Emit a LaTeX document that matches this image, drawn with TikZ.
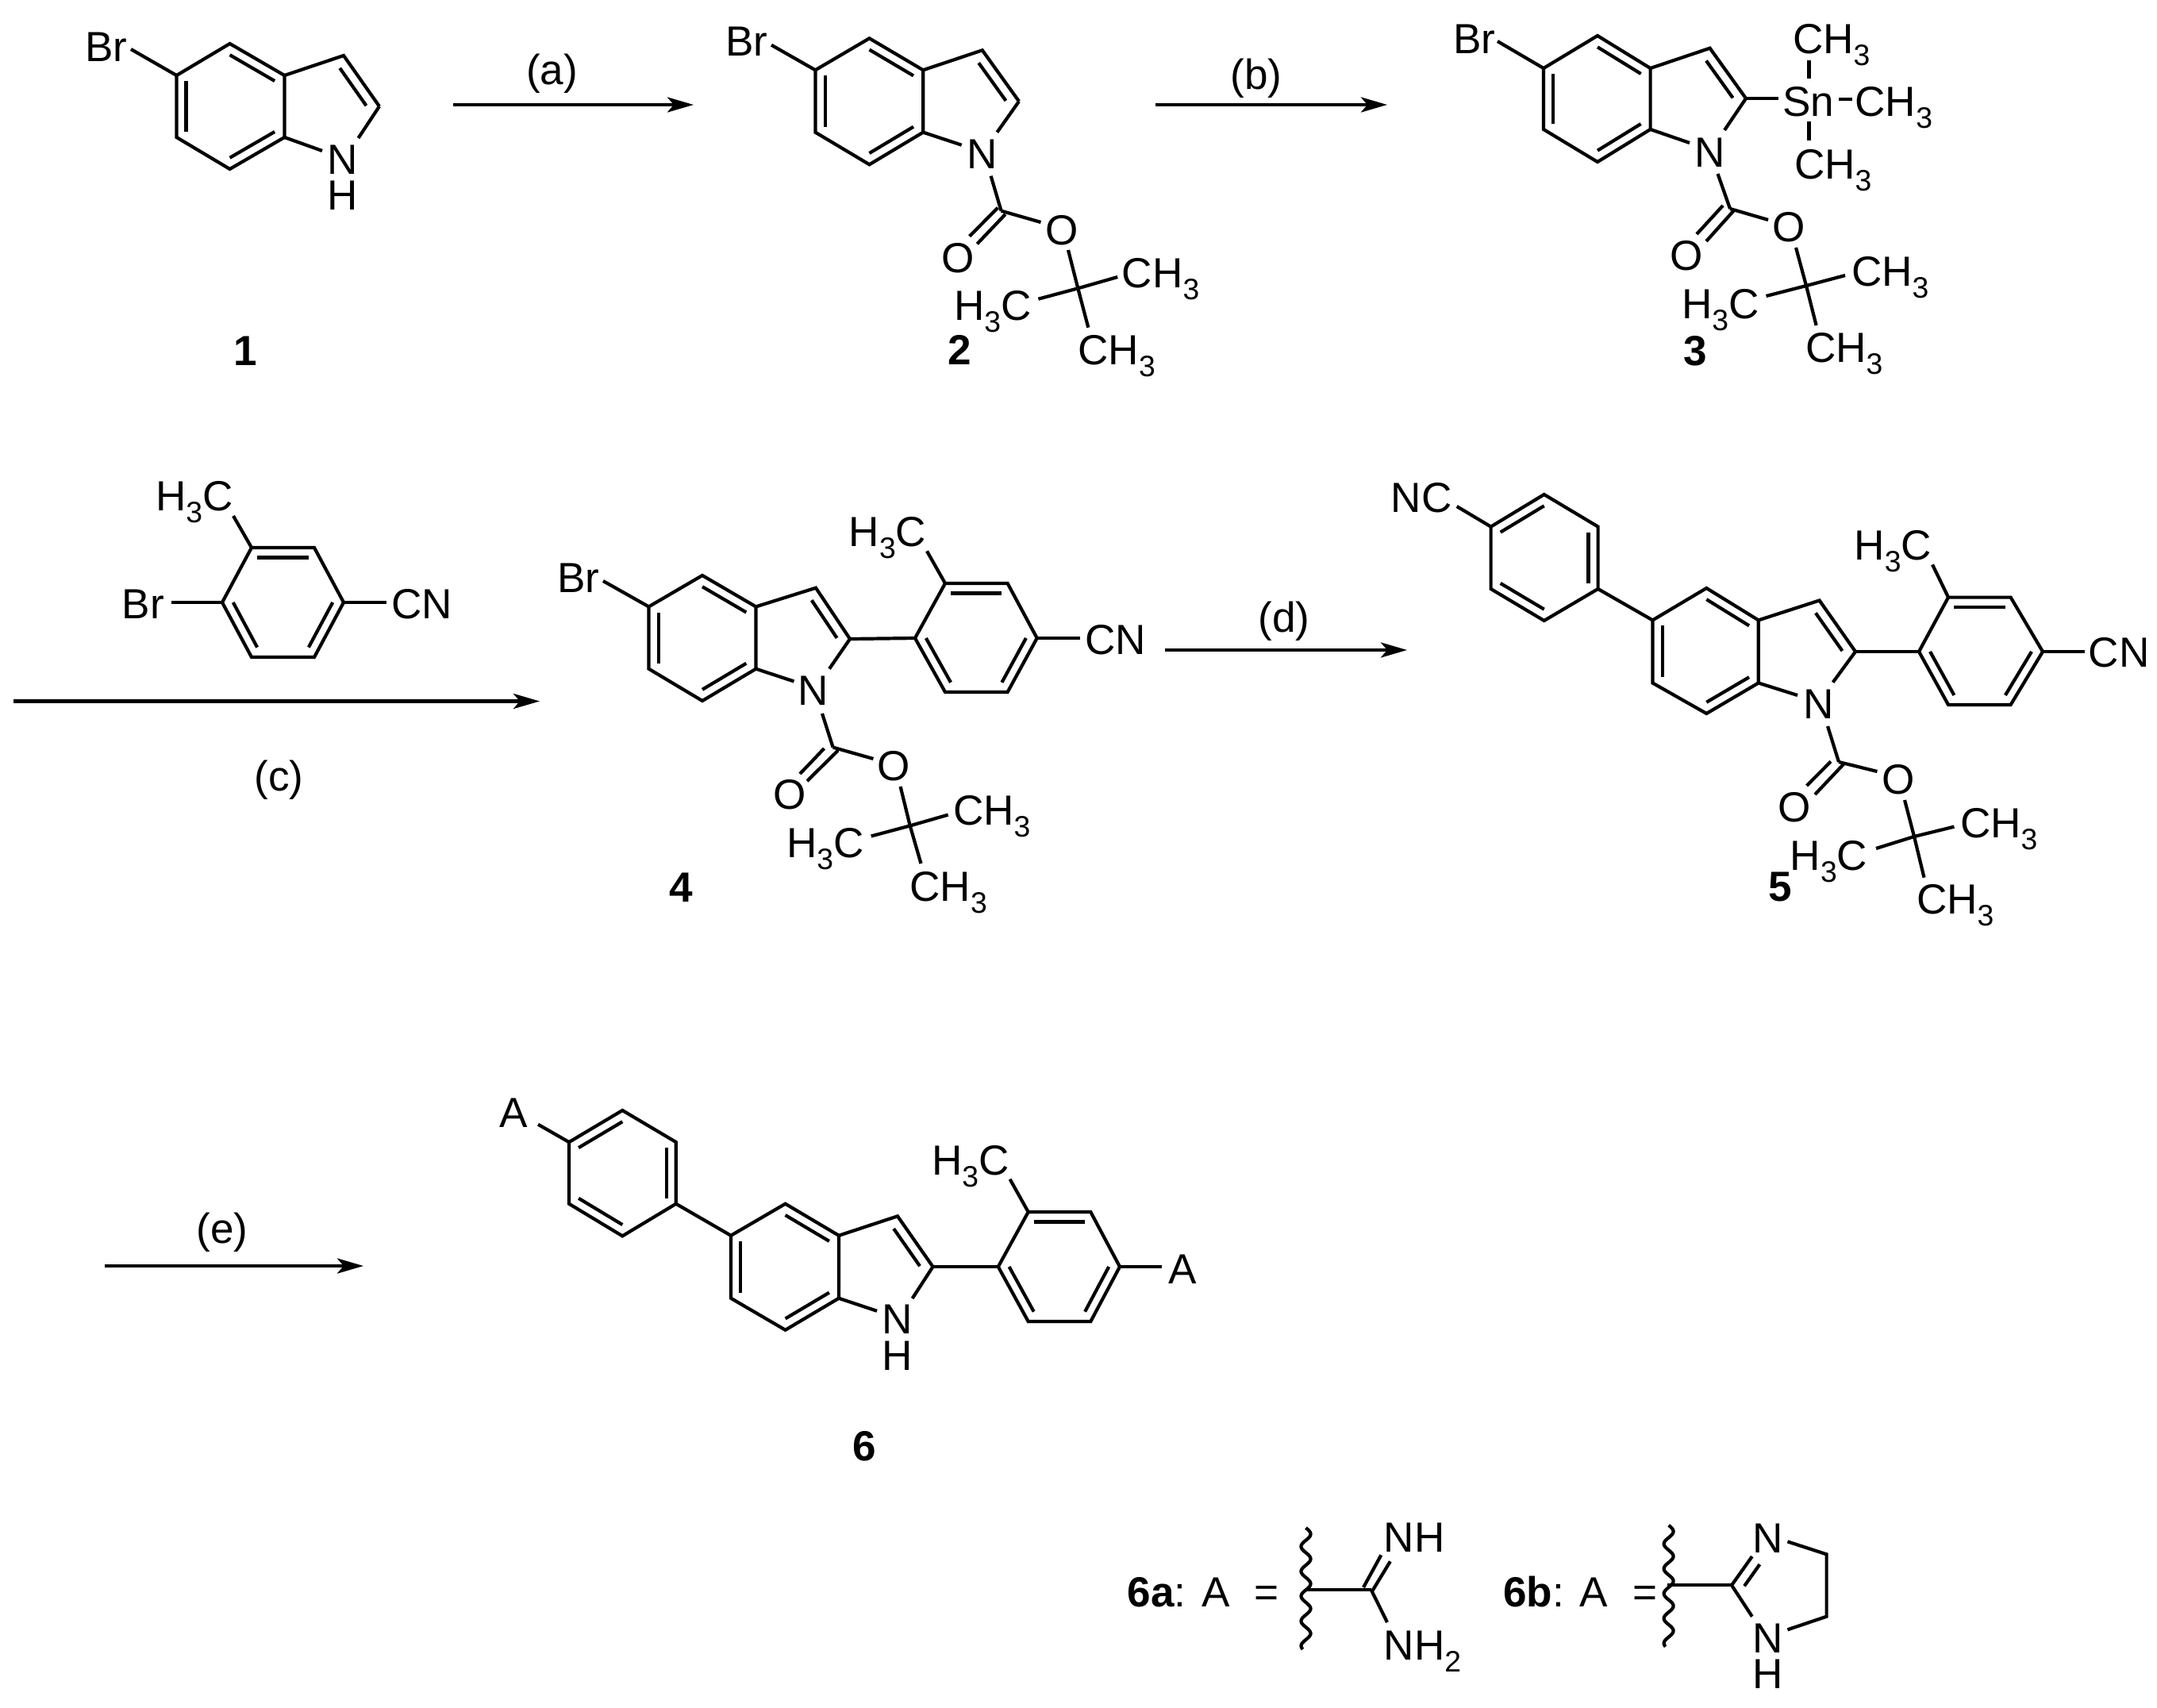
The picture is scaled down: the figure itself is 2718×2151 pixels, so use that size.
\documentclass[tikz,border=0pt]{standalone}
\usepackage{fontspec}
\setmainfont{Liberation Sans}
\usetikzlibrary{arrows.meta,calc}
\newcommand\sbs[1]{\raisebox{-0.15cm}{\fontsize{10.6}{12}\selectfont #1}}
\tikzset{
  bond/.style={line width=0.042cm,line join=miter,line cap=butt},
  rxn/.style={line width=0.042cm,-{Stealth[length=0.33cm,width=0.19cm,inset=0.08cm]}},
  lbl/.style={inner sep=0pt,outer sep=0pt,anchor=base west,xshift=-0.03cm,font=\fontsize{15.1}{18}\selectfont},
  atm/.style={inner sep=0pt,outer sep=0pt,anchor=base,font=\fontsize{15.1}{18}\selectfont},
  num/.style={atm,font=\fontsize{15.1}{18}\selectfont\bfseries}
}
% pointy-top hexagon: name, xl, xm, xr, ytop, yup, ylo, ybot
\newcommand\hexp[8]{%
  \coordinate (#1a) at (#3,#5); \coordinate (#1b) at (#4,#6); \coordinate (#1c) at (#4,#7);
  \coordinate (#1d) at (#3,#8); \coordinate (#1e) at (#2,#7); \coordinate (#1f) at (#2,#6);
  \coordinate (#1g) at ($(#1a)!.5!(#1d)$);
  \draw[bond] (#1a)--(#1b)--(#1c)--(#1d)--(#1e)--(#1f)--cycle;}
% flat-top hexagon: name, xl, xtl, xtr, xr, yt, ym, yb
\newcommand\hexf[8]{%
  \coordinate (#1a) at (#3,#6); \coordinate (#1b) at (#4,#6); \coordinate (#1c) at (#5,#7);
  \coordinate (#1d) at (#4,#8); \coordinate (#1e) at (#3,#8); \coordinate (#1f) at (#2,#7);
  \coordinate (#1g) at ($(#1c)!.5!(#1f)$);
  \draw[bond] (#1a)--(#1b)--(#1c)--(#1d)--(#1e)--(#1f)--cycle;}
\newcommand\inr[3]{\draw[bond] ($(#1#2)!.18!(#1g)$)--($(#1#3)!.18!(#1g)$);}
% double bond of five ring: inner line on the right of a->b
\newcommand\dbl[2]{\draw[bond] ($(#1)!.13!(#2)!0.13cm!-90:(#2)$)--($(#2)!.13!(#1)!0.13cm!90:(#1)$);}
\newcommand\indl[1]{\inr{#1}{f}{e}\inr{#1}{a}{b}\inr{#1}{d}{c}
  \draw[bond] (#1b)--(#1t)--(#1u); \dbl{#1t}{#1u}}
\newcommand\seg[2]{\draw[bond] (#1)--(#2);}
\begin{document}
\begin{tikzpicture}[x=0.01cm,y=-0.01cm]
\path[fill=white,use as bounding box] (0,0) rectangle (2718,2151);

%% ---------- compound 1
\hexp{A}{222.5}{289.6}{358.5}{55}{95}{173}{213}
\coordinate (At) at (433,70); \coordinate (Au) at (478,134);
\indl{A}
\node[lbl] (Abr) at (110.5,77) {Br};
\node[atm] (An) at (432,219) {N};
\node[atm] (Ah) at (432,264) {H};
\coordinate (Ae1) at (165,62); \coordinate (Ae2) at (451.5,174); \coordinate (Ae3) at (406,190);
\seg{Ae1}{Af}\seg{Au}{Ae2}\seg{Ac}{Ae3}
\node[num] (n1) at (309,460) {1};

%% arrow a
\coordinate (ra1) at (571,132); \coordinate (ra2) at (874,132);
\draw[rxn] (ra1)--(ra2);
\node[atm] (la) at (695.5,106) {(a)};

%% ---------- compound 2
\hexp{B}{1027.4}{1095.5}{1163.2}{48.3}{88.3}{166.7}{207.3}
\coordinate (Bt) at (1237.8,63.3); \coordinate (Bu) at (1284,127.7);
\indl{B}
\node[lbl] (Bbr) at (917,70) {Br};
\node[atm] (Bn) at (1238,212.3) {N};
\coordinate (Be1) at (972,56.7); \coordinate (Be2) at (1256.4,166.7); \coordinate (Be3) at (1211.7,182.7);
\seg{Be1}{Bf}\seg{Bu}{Be2}\seg{Bc}{Be3}
\coordinate (Bn1) at (1248.6,221.7); \coordinate (Bc1) at (1261.6,265.7); \seg{Bn1}{Bc1}
\coordinate (Bd1) at (1257.3,261.7); \coordinate (Bd2) at (1221.7,297.7); \seg{Bd1}{Bd2}
\coordinate (Bd3) at (1266.8,270); \coordinate (Bd4) at (1231.3,307.3); \seg{Bd3}{Bd4}
\coordinate (Bo1) at (1311.5,280); \seg{Bc1}{Bo1}
\node[atm] (BoA) at (1207,343) {O};
\node[atm] (BoB) at (1338,308) {O};
\coordinate (Bq0) at (1346,315); \coordinate (Bq) at (1358.3,363.3); \coordinate (Bq1) at (1371.3,412.7);
\coordinate (Bq2) at (1308.4,376.7); \coordinate (Bq3) at (1408.2,349);
\seg{Bq0}{Bq}\seg{Bq}{Bq1}\seg{Bq}{Bq2}\seg{Bq}{Bq3}
\node[lbl] (Bm1) at (1416.9,362.7) {CH\sbs{3}};
\node[lbl] (Bm2) at (1205,403.3) {H\sbs{3}C};
\node[lbl] (Bm3) at (1361.3,459.3) {CH\sbs{3}};
\node[num] (n2) at (1209.6,459.3) {2};

%% arrow b
\coordinate (rb1) at (1456,132); \coordinate (rb2) at (1748,132);
\draw[rxn] (rb1)--(rb2);
\node[atm] (lb) at (1583,112) {(b)};

%% ---------- compound 3
\hexp{C}{1945}{2013}{2079.6}{45}{86}{163}{204}
\coordinate (Ct) at (2154.6,60.7); \coordinate (Cu) at (2200,124);
\indl{C}
\node[lbl] (Cbr) at (1834,67) {Br};
\node[atm] (Cn) at (2155,210) {N};
\coordinate (Ce1) at (1887,52); \coordinate (Ce2) at (2173,164); \coordinate (Ce3) at (2129,180);
\seg{Ce1}{Cf}\seg{Cu}{Ce2}\seg{Cc}{Ce3}
\coordinate (Cn1) at (2164.5,219); \coordinate (Cc1) at (2180,263); \seg{Cn1}{Cc1}
\coordinate (Cd1) at (2171,259); \coordinate (Cd2) at (2138,295); \seg{Cd1}{Cd2}
\coordinate (Cd3) at (2185,265); \coordinate (Cd4) at (2150,304); \seg{Cd3}{Cd4}
\coordinate (Co1) at (2228,277); \seg{Cc1}{Co1}
\node[atm] (CoA) at (2125,340) {O};
\node[atm] (CoB) at (2254,304) {O};
\coordinate (Cq0) at (2263,312); \coordinate (Cq) at (2276,360); \coordinate (Cq1) at (2288.6,410);
\coordinate (Cq2) at (2225.5,373); \coordinate (Cq3) at (2325,347);
\seg{Cq0}{Cq}\seg{Cq}{Cq1}\seg{Cq}{Cq2}\seg{Cq}{Cq3}
\node[lbl] (Cm1) at (2336,360) {CH\sbs{3}};
\node[lbl] (Cm2) at (2122,401) {H\sbs{3}C};
\node[lbl] (Cm3) at (2278,456) {CH\sbs{3}};
\node[num] (n3) at (2136,460) {3};
\node[lbl] (Csn) at (2249,146) {Sn};
\node[lbl] (Cs1) at (2262,67) {CH\sbs{3}};
\node[lbl] (Cs2) at (2264,225) {CH\sbs{3}};
\node[lbl] (Cs3) at (2340.6,146) {CH\sbs{3}};
\coordinate (Cx1) at (2241,124); \seg{Cu}{Cx1}
\coordinate (Cx2) at (2279.5,76); \coordinate (Cx3) at (2279.5,99); \seg{Cx2}{Cx3}
\coordinate (Cx4) at (2279.5,153); \coordinate (Cx5) at (2279.5,177); \seg{Cx4}{Cx5}
\coordinate (Cx6) at (2317,125); \coordinate (Cx7) at (2333.5,125); \seg{Cx6}{Cx7}

%% ---------- reagent and arrow c
\hexf{R}{280}{317}{396}{433}{690}{759}{828}
\inr{R}{a}{b}\inr{R}{f}{e}\inr{R}{c}{d}
\node[lbl] (Rm) at (199,643.8) {H\sbs{3}C};
\node[lbl] (Rbr) at (157,779.5) {Br};
\node[lbl] (Rcn) at (496.6,779.5) {CN};
\coordinate (Re1) at (294,650); \coordinate (Re2) at (215.5,759); \coordinate (Re3) at (487,759);
\seg{Re1}{Ra}\seg{Re2}{Rf}\seg{Rc}{Re3}
\coordinate (rc1) at (17,883.5); \coordinate (rc2) at (680,883.5);
\draw[rxn] (rc1)--(rc2);
\node[atm] (lc) at (351.4,996) {(c)};

%% ---------- compound 4
\hexp{D}{817.5}{885}{952.5}{725}{764.4}{842.7}{883}
\coordinate (Dt) at (1028,740.7); \coordinate (Du) at (1071,805);
\indl{D}
\node[lbl] (Dbr) at (705,746) {Br};
\node[atm] (Dn) at (1025,888) {N};
\coordinate (De1) at (760,732); \coordinate (De2) at (1045,842.7); \coordinate (De3) at (1000.5,858.5);
\seg{De1}{Df}\seg{Du}{De2}\seg{Dc}{De3}
\coordinate (Dn1) at (1036,899); \coordinate (Dc1) at (1049.6,941.6); \seg{Dn1}{Dc1}
\coordinate (Dd1) at (1038.5,943); \coordinate (Dd2) at (1008,975); \seg{Dd1}{Dd2}
\coordinate (Dd3) at (1056,945.5); \coordinate (Dd4) at (1017,984); \seg{Dd3}{Dd4}
\coordinate (Do1) at (1100.4,956); \seg{Dc1}{Do1}
\node[atm] (DoA) at (995,1019) {O};
\node[atm] (DoB) at (1126,983) {O};
\coordinate (Dq0) at (1134.6,991); \coordinate (Dq) at (1146.7,1040.4); \coordinate (Dq1) at (1160.5,1088);
\coordinate (Dq2) at (1097.7,1053.5); \coordinate (Dq3) at (1194.7,1026.6);
\seg{Dq0}{Dq}\seg{Dq}{Dq1}\seg{Dq}{Dq2}\seg{Dq}{Dq3}
\node[lbl] (Dm1) at (1204,1039) {CH\sbs{3}};
\node[lbl] (Dm2) at (994,1080) {H\sbs{3}C};
\node[lbl] (Dm3) at (1149.5,1135) {CH\sbs{3}};
\node[num] (n4) at (858,1136.5) {4};
\hexf{E}{1153}{1191}{1269.6}{1306.7}{735}{804}{872}
\inr{E}{a}{b}\inr{E}{f}{e}\inr{E}{c}{d}
\seg{Du}{Ef}
\node[lbl] (Em) at (1072.7,688.5) {H\sbs{3}C};
\node[lbl] (Ecn) at (1370.4,824) {CN};
\coordinate (Ee1) at (1168,694.4); \coordinate (Ee2) at (1361,804);
\seg{Ee1}{Ea}\seg{Ec}{Ee2}

%% arrow d
\coordinate (rd1) at (1468,819); \coordinate (rd2) at (1773,819);
\draw[rxn] (rd1)--(rd2);
\node[atm] (ld) at (1618,796) {(d)};

%% ---------- compound 5
\hexp{F}{1878.6}{1945.7}{2013.6}{623}{663.6}{742}{782}
\inr{F}{f}{a}\inr{F}{b}{c}\inr{F}{d}{e}
\node[lbl] (Fnc) at (1755.7,645) {NC};
\coordinate (Fe1) at (1835.7,638); \seg{Fe1}{Ff}
\hexp{G}{2082.4}{2150.3}{2215.8}{741}{781.4}{860.5}{899}
\coordinate (Gt) at (2292.6,756.5); \coordinate (Gu) at (2338,821);
\indl{G}
\seg{Fc}{Gf}
\node[atm] (Gn) at (2292,905) {N};
\coordinate (Ge2) at (2309.6,859.7); \coordinate (Ge3) at (2265,876);
\seg{Gu}{Ge2}\seg{Gc}{Ge3}
\coordinate (Gn1) at (2303,915); \coordinate (Gc1) at (2317,960); \seg{Gn1}{Gc1}
\coordinate (Gd1) at (2307,959.4); \coordinate (Gd2) at (2276.5,990); \seg{Gd1}{Gd2}
\coordinate (Gd3) at (2323.3,962.5); \coordinate (Gd4) at (2287,1001); \seg{Gd3}{Gd4}
\coordinate (Go1) at (2365.4,972); \seg{Gc1}{Go1}
\node[atm] (GoA) at (2261.5,1035.7) {O};
\node[atm] (GoB) at (2392,1000) {O};
\coordinate (Gq0) at (2400,1008); \coordinate (Gq) at (2412,1054); \coordinate (Gq1) at (2424.5,1105.7);
\coordinate (Gq2) at (2364,1069); \coordinate (Gq3) at (2462.4,1041.6);
\seg{Gq0}{Gq}\seg{Gq}{Gq1}\seg{Gq}{Gq2}\seg{Gq}{Gq3}
\node[lbl] (Gm1) at (2473,1055) {CH\sbs{3}};
\node[lbl] (Gm2) at (2258.7,1096) {H\sbs{3}C};
\node[lbl] (Gm3) at (2418,1151) {CH\sbs{3}};
\node[num] (n5) at (2243.5,1135.5) {5};
\hexf{H}{2418}{2455}{2533.6}{2574}{752.6}{821}{888}
\inr{H}{a}{b}\inr{H}{f}{e}\inr{H}{c}{d}
\seg{Gu}{Hf}
\node[lbl] (Hm) at (2339.5,705.5) {H\sbs{3}C};
\node[lbl] (Hcn) at (2634.7,840.7) {CN};
\coordinate (He1) at (2435,711.4); \coordinate (He2) at (2626.6,821);
\seg{He1}{Ha}\seg{Hc}{He2}

%% arrow e
\coordinate (re1) at (132,1595); \coordinate (re2) at (458,1595);
\draw[rxn] (re1)--(re2);
\node[atm] (le) at (280,1566) {(e)};

%% ---------- compound 6
\hexp{J}{717}{784.3}{851.8}{1399}{1439}{1516.7}{1557.3}
\inr{J}{f}{a}\inr{J}{b}{c}\inr{J}{d}{e}
\node[lbl] (JA) at (632,1420) {A};
\coordinate (Je1) at (678,1416.7); \seg{Je1}{Jf}
\hexp{K}{921}{989.6}{1057}{1516.7}{1556.7}{1635.7}{1675.7}
\coordinate (Kt) at (1131,1532.3); \coordinate (Ku) at (1175.5,1596);
\indl{K}
\seg{Jc}{Kf}
\node[atm] (Kn) at (1131,1680) {N};
\node[atm] (Kh) at (1131,1726) {H};
\coordinate (Ke2) at (1149.6,1636); \coordinate (Ke3) at (1105,1651.7);
\seg{Ku}{Ke2}\seg{Kc}{Ke3}
\hexf{L}{1257.8}{1295.7}{1374.3}{1411}{1527}{1596}{1665}
\inr{L}{a}{b}\inr{L}{f}{e}\inr{L}{c}{d}
\seg{Ku}{Lf}
\node[lbl] (Lm) at (1177,1480.7) {H\sbs{3}C};
\node[lbl] (LA) at (1475,1617.7) {A};
\coordinate (Le1) at (1272.6,1485.7); \coordinate (Le2) at (1464,1596);
\seg{Le1}{La}\seg{Lc}{Le2}
\node[num] (n6) at (1089,1840) {6};

%% ---------- 6a
\node[lbl] (Pt) at (1423.5,2024) {\textbf{6a}: A\hspace{0.31cm}=};
\draw[bond] plot[domain=0:153,samples=120,smooth] ({1645.5+6*sin(11.5*\x)},{1925+\x});
\coordinate (Pw) at (1645,2002.7); \coordinate (Pc) at (1727.6,2002.7); \seg{Pw}{Pc}
\node[lbl] (Pnh) at (1746.7,1955.3) {NH};
\node[lbl] (Pnh2) at (1746.7,2091.7) {NH\sbs{2}};
\coordinate (Pd1) at (1718,2000); \coordinate (Pd2) at (1740.3,1959.3); \seg{Pd1}{Pd2}
\coordinate (Pd3) at (1729.5,2004); \coordinate (Pd4) at (1751.8,1967.3); \seg{Pd3}{Pd4}
\coordinate (Pe) at (1748,2044); \seg{Pc}{Pe}

%% ---------- 6b
\node[lbl] (Qt) at (1897.3,2024) {\textbf{6b}: A\hspace{0.31cm}=};
\draw[bond] plot[domain=0:153,samples=120,smooth] ({2102.6+6*sin(11.5*\x)},{1921.7+\x});
\coordinate (Qw) at (2100.7,1997.3); \coordinate (Qc) at (2182,1997.3); \seg{Qw}{Qc}
\node[atm] (Qn1) at (2227.6,1956) {N};
\node[atm] (Qn2) at (2227.6,2082.7) {N};
\node[atm] (Qh) at (2227.6,2127.3) {H};
\coordinate (Qd1) at (2207.8,1961); \seg{Qc}{Qd1}
\coordinate (Qd2) at (2198,1998.3); \coordinate (Qd3) at (2217.4,1971); \seg{Qd2}{Qd3}
\coordinate (Qe) at (2207.8,2036.7); \seg{Qc}{Qe}
\coordinate (Qr1) at (2252.4,1942.3); \coordinate (Qr2) at (2301.6,1958.3);
\coordinate (Qr3) at (2301.6,2036.7); \coordinate (Qr4) at (2252.4,2053.3);
\draw[bond] (Qr1)--(Qr2)--(Qr3)--(Qr4);
\end{tikzpicture}
\end{document}
